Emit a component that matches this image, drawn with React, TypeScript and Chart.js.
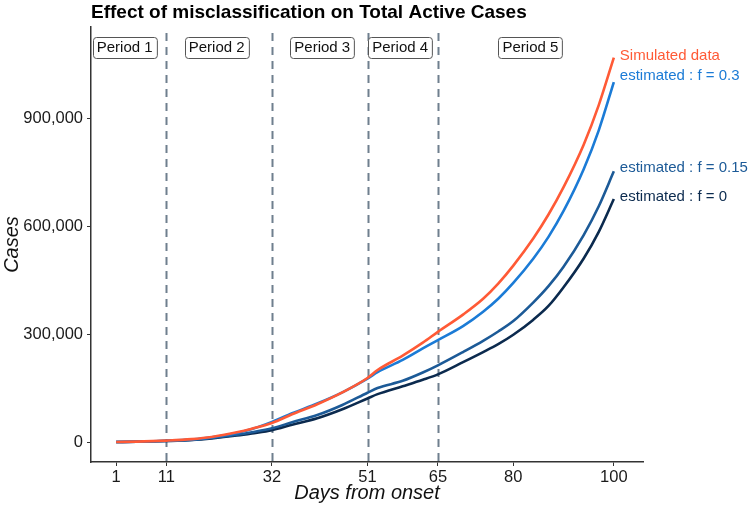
import React, { useEffect, useRef } from "react";
import { Chart, registerables } from "chart.js";

Chart.register(...registerables);

const FONT = "'Liberation Sans', Arial, Helvetica, sans-serif";

const titleText = "Effect of misclassification on Total Active Cases";
const xTitle = "Days from onset";
const yTitle = "Cases";

const days = [1, 5, 11, 16, 20, 25, 28, 32, 36, 41, 46, 51, 53, 58, 62, 65, 70, 74, 77, 80, 84, 87, 90, 94, 97, 100];
const simulated = [0, 1000, 4000, 8000, 14000, 27000, 37000, 53000, 77000, 105000, 138000, 178000, 200000, 240000, 276000, 306000, 354000, 398000, 440000, 490000, 566000, 632000, 708000, 826000, 936000, 1068000];
const estF03 = [0, 1000, 3500, 7000, 13000, 25000, 36000, 56000, 80000, 107000, 138000, 176000, 194000, 228000, 260000, 283000, 322000, 362000, 398000, 442000, 510000, 570000, 642000, 758000, 866000, 1000000];
const estF015 = [0, 800, 3000, 6000, 11000, 20000, 27000, 38000, 55000, 75000, 103000, 137000, 150000, 170000, 193000, 213000, 250000, 281000, 307000, 336000, 388000, 433000, 487000, 575000, 655000, 752000];
const estF0 = [0, 700, 2800, 5500, 10000, 18000, 24000, 33000, 48000, 66000, 91000, 121000, 133000, 155000, 173000, 188000, 222000, 250000, 272000, 298000, 340000, 378000, 430000, 510000, 584000, 675000];

const seriesNames = ["Simulated data", "estimated : f = 0.3", "estimated : f = 0.15", "estimated : f = 0"];
const seriesColors = ["#FF5A36", "#1B7BD6", "#1C5A97", "#0B2A4E"];
const seriesValues = [simulated, estF03, estF015, estF0];
const endLabelValues = [1072000, 1017000, 761000, 681000];

const xTicks = [1, 11, 32, 51, 65, 80, 100];
const yTicks = [0, 300000, 600000, 900000];

const periodBreaks = [11, 32, 51, 65];
const periodLabels = ["Period 1", "Period 2", "Period 3", "Period 4", "Period 5"];
const periodPositions = [2.7, 21, 42, 57.5, 83.4];
const periodLabelValue = 1097000;

const overlayPlugin = {
  id: "overlay",
  beforeDatasetsDraw(chart: any) {
    const { ctx, chartArea, scales } = chart;
    const x = scales.x;
    ctx.save();
    ctx.strokeStyle = "#6F7F8E";
    ctx.lineWidth = 2;
    ctx.setLineDash([8, 6]);
    for (const b of periodBreaks) {
      const px = Math.round(x.getPixelForValue(b)) + 0.5;
      ctx.beginPath();
      ctx.moveTo(px, chartArea.top + 6);
      ctx.lineTo(px, chartArea.bottom);
      ctx.stroke();
    }
    ctx.restore();
  },
  afterDatasetsDraw(chart: any) {
    const { ctx, chartArea, scales } = chart;
    const x = scales.x;
    const y = scales.y;
    ctx.save();
    ctx.font = `15px ${FONT}`;
    ctx.textAlign = "center";
    ctx.textBaseline = "middle";
    periodLabels.forEach((label, i) => {
      const cx = x.getPixelForValue(periodPositions[i]);
      const cy = y.getPixelForValue(periodLabelValue);
      const w = ctx.measureText(label).width + 8;
      const h = 21;
      const lx = Math.round(cx - w / 2) + 0.5;
      const ly = Math.round(cy - h / 2) + 0.5;
      ctx.beginPath();
      ctx.roundRect(lx, ly, w, h, 3);
      ctx.fillStyle = "#ffffff";
      ctx.fill();
      ctx.strokeStyle = "#555555";
      ctx.lineWidth = 1;
      ctx.setLineDash([]);
      ctx.stroke();
      ctx.fillStyle = "#111111";
      ctx.fillText(label, cx, cy + 1);
    });
    ctx.textAlign = "left";
    ctx.font = `15px ${FONT}`;
    seriesNames.forEach((name, i) => {
      const lx = x.getPixelForValue(days[days.length - 1]) + 6;
      const ly = y.getPixelForValue(endLabelValues[i]);
      ctx.fillStyle = seriesColors[i];
      ctx.fillText(name, lx, ly);
    });
    ctx.font = `bold 19px ${FONT}`;
    ctx.fillStyle = "#000000";
    ctx.textAlign = "left";
    ctx.textBaseline = "middle";
    ctx.fillText(titleText, chartArea.left, 13);
    ctx.restore();
  },
};

export default function App() {
  const canvasRef = useRef<HTMLCanvasElement | null>(null);

  useEffect(() => {
    const canvas = canvasRef.current;
    if (!canvas) return;
    const chart = new Chart(canvas, {
      type: "line",
      data: {
        datasets: seriesNames.map((name, i) => ({
          label: name,
          data: days.map((d, j) => ({ x: d, y: seriesValues[i][j] })),
          borderColor: seriesColors[i],
          backgroundColor: seriesColors[i],
          borderWidth: 2.6,
          pointRadius: 0,
          cubicInterpolationMode: "monotone" as const,
          fill: false,
        })),
      },
      options: {
        responsive: false,
        animation: false,
        layout: { padding: { top: 27, right: 106, left: 0, bottom: 0 } },
        plugins: {
          legend: { display: false },
          title: { display: false },
          tooltip: { enabled: false },
        },
        scales: {
          x: {
            type: "linear",
            min: -4,
            max: 105.8,
            afterBuildTicks: (s: any) => {
              s.ticks = xTicks.map((v) => ({ value: v }));
            },
            afterFit: (s: any) => {
              s.height = 45;
            },
            ticks: {
              autoSkip: false,
              maxRotation: 0,
              padding: 2,
              color: "#1a1a1a",
              font: { family: FONT, size: 16.5 },
              callback: (v: any) => String(v),
            },
            grid: {
              display: true,
              drawOnChartArea: false,
              drawTicks: true,
              tickLength: 4,
              tickColor: "#333333",
              tickWidth: 1,
            },
            border: { display: true, color: "#333333", width: 1.5 },
            title: {
              display: true,
              text: xTitle,
              color: "#111111",
              font: { family: FONT, size: 20, style: "italic" },
              padding: { top: 0, bottom: 2 },
            },
          },
          y: {
            type: "linear",
            min: -55500,
            max: 1153000,
            afterBuildTicks: (s: any) => {
              s.ticks = yTicks.map((v) => ({ value: v }));
            },
            afterFit: (s: any) => {
              s.width = 91;
            },
            ticks: {
              padding: 4,
              color: "#1a1a1a",
              font: { family: FONT, size: 16.5 },
              callback: (v: any) => Number(v).toLocaleString("en-US"),
            },
            grid: {
              display: true,
              drawOnChartArea: false,
              drawTicks: true,
              tickLength: 4,
              tickColor: "#333333",
              tickWidth: 1,
            },
            border: { display: true, color: "#333333", width: 1.5 },
            title: {
              display: true,
              text: yTitle,
              color: "#111111",
              font: { family: FONT, size: 20, style: "italic" },
              padding: { top: 0, bottom: 0 },
            },
          },
        },
      },
      plugins: [overlayPlugin],
    });
    return () => chart.destroy();
  }, []);

  return (
    <div style={{ position: "absolute", left: 0, top: 0, width: 749, height: 507, background: "#ffffff" }}>
      <canvas ref={canvasRef} width={749} height={507} style={{ width: 749, height: 507, display: "block" }} />
    </div>
  );
}
